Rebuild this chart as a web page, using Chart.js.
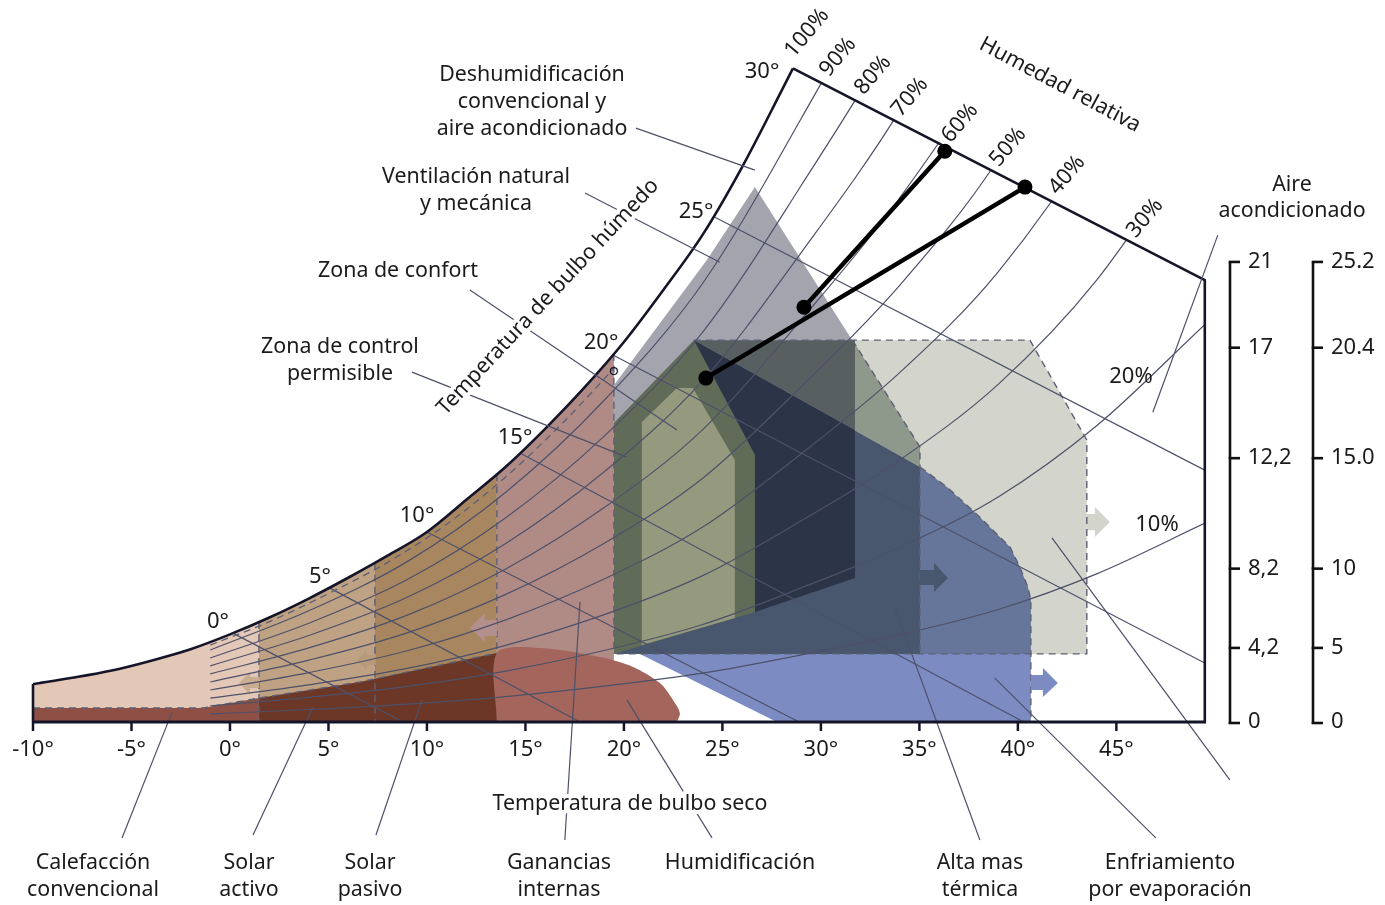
<!DOCTYPE html>
<html>
<head>
<meta charset="utf-8">
<script src="https://cdn.jsdelivr.net/npm/chart.js@4.4.1/dist/chart.umd.min.js"></script>
<style>
  html, body { margin: 0; background: #fff; }
</style>
</head>
<body>
<canvas id="chart" width="1385" height="905"></canvas>
<script>
// Psychrometric chart with bioclimatic zones (dry bulb °C vs humidity ratio g/kg)

// saturation (100%) curve
const satT = [-10, -8, -6, -4, -2, 0, 2, 4, 6, 8, 10, 12, 14, 16, 18, 20, 22, 24, 26, 28, 28.58];
const satW = [1.46, 1.70, 1.98, 2.36, 2.80, 3.37, 4.02, 4.75, 5.55, 6.40, 7.31, 8.55, 9.82, 11.28, 12.87, 14.62, 16.62, 18.75, 21.35, 24.28, 25.15];

// relative humidity curves
const rhT = [-1, 4, 9, 14, 19, 24, 29, 34, 39, 44, 49.5];
const rh90 = [2.77, 4.28, 6.17, 8.84, 12.38, 16.88, 23.22, 30.24, 38.97, 51.1, 68.9];
const rh80 = [2.46, 3.80, 5.48, 7.86, 11.0, 15.0, 20.64, 26.88, 34.64, 45.4, 61.2];
const rh70 = [2.16, 3.33, 4.80, 6.87, 9.63, 13.13, 18.06, 23.52, 30.31, 39.8, 53.6];
const rh60 = [1.85, 2.85, 4.11, 5.89, 8.25, 11.25, 15.48, 20.16, 25.98, 34.1, 45.9];
const rh50 = [1.54, 2.38, 3.43, 4.91, 6.88, 9.38, 12.9, 16.8, 21.65, 28.4, 38.3];
const rh40 = [1.23, 1.90, 2.74, 3.93, 5.5, 7.5, 10.32, 13.44, 17.32, 22.7, 30.6];
const rh30 = [0.92, 1.43, 2.06, 2.95, 4.13, 5.63, 7.74, 10.08, 12.99, 17.0, 23.0];
const rh20 = [0.62, 0.95, 1.37, 1.96, 2.75, 3.75, 5.16, 6.72, 8.66, 11.4, 15.3];
const rh10 = [0.31, 0.48, 0.69, 0.98, 1.38, 1.88, 2.58, 3.36, 4.33, 5.7, 7.65];

// dashed line just under saturation (zone limit)
const limitT = [-1, 2, 5, 8, 11, 14, 17, 19.49];
const limitW = [2.96, 3.86, 4.94, 6.14, 7.61, 9.43, 11.59, 13.6];

// wet bulb lines 0°..25° (start on saturation, end on border)
const wetBulb = [
  [[0.15, 3.42], [8.78, 0]],
  [[5.08, 5.15], [17.77, 0]],
  [[10.0, 7.31], [28.9, 0]],
  [[14.72, 10.35], [40.3, 0]],
  [[19.44, 14.12], [49.49, 2.27]],
  [[24.62, 19.42], [49.49, 9.69]]
];
const topBorder = [[28.58, 25.15], [49.49, 17.0]];   // 30° wet bulb, top edge
const rightBorder = [[49.49, 17.0], [49.49, 0]];
const leftBorder = [[-10, 0], [-10, 1.46]];

// zones
const zoneCalefaccion = [[-10, 0], [-10, 1.46], [-8, 1.70], [-6, 1.98], [-4, 2.36], [-2, 2.80], [0, 3.37], [1.47, 3.85], [1.47, 0]];
const zoneSolarActivo = [[1.47, 0], [1.47, 3.85], [2, 4.02], [4, 4.75], [6, 5.55], [7.36, 6.13], [7.36, 0]];
const zoneSolarPasivo = [[7.36, 0], [7.36, 6.13], [8, 6.40], [10, 7.31], [12, 8.55], [13.55, 9.53], [13.55, 0]];
const zoneGanancias = [[13.55, 0], [13.55, 9.53], [14, 9.82], [16, 11.28], [18, 12.87], [19.49, 14.17], [19.49, 0]];
const bandLeft = [[-10, 0], [-10, 0.54], [-1.37, 0.54], [1.47, 0.92], [1.47, 0]];
const bandMid = [[1.47, 0], [1.47, 0.92], [6.6, 1.54], [13.55, 2.65], [13.55, 0]];
const zoneHumid = [[13.55, 0], [13.55, 2.65], [15.74, 2.85], [18.79, 2.5], [20.46, 2.12], [21.83, 1.5], [22.49, 0.85], [22.84, 0.35], [22.69, 0]];
const zoneEvap = [[23.55, 14.69], [40.61, 14.69], [43.5, 10.85], [43.5, 2.62], [23.55, 2.62]];
const arrowEvap = [[43.5, 8.0], [43.91, 8.0], [43.91, 8.27], [44.67, 7.69], [43.91, 7.12], [43.91, 7.38], [43.5, 7.38]];
const zoneVent = [[26.65, 20.58], [35.03, 10.58], [35.03, 2.62], [19.49, 2.62], [19.49, 12.96], [24.21, 17.77]];
const zoneMasaBase = [[20.81, 2.62], [40.66, 2.62], [40.66, 0], [27.77, 0]];
const zoneMasaVent = [[23.55, 14.69], [35.03, 9.81], [35.03, 2.62], [19.49, 2.62]];
const zoneMasaEvap = [[35.03, 9.81], [36.4, 9.04], [38.07, 7.88], [39.6, 6.73], [40.1, 5.96], [40.51, 5.19], [40.66, 4.69], [40.66, 2.62], [35.03, 2.62]];
const zoneVentEvap = [[31.6, 14.69], [35.03, 10.58], [35.03, 9.81], [31.73, 11.23], [31.73, 14.69]];
const zoneMasaTop = [[23.55, 14.69], [31.73, 14.69], [31.73, 11.23]];
const zoneMasaDark = [[23.55, 14.69], [31.73, 11.23], [31.73, 5.54], [26.65, 4.23], [26.65, 10.27]];
const zoneControl = [[23.55, 14.69], [26.65, 10.27], [26.65, 4.23], [19.49, 2.62], [19.49, 11.5]];
const zoneConfort = [[20.91, 11.54], [22.69, 12.85], [23.5, 12.85], [25.63, 10.08], [25.63, 4.0], [20.91, 2.96]];

const arrowSolarA = [[1.47, 1.73], [1.02, 1.73], [1.02, 1.92], [0.46, 1.5], [1.02, 1.04], [1.02, 1.31], [1.47, 1.31]];
const arrowSolarP = [[7.41, 2.58], [6.95, 2.58], [6.95, 2.77], [6.45, 2.38], [6.95, 2.0], [6.95, 2.19], [7.41, 2.19]];
const arrowGanancias = [[13.55, 3.92], [12.94, 3.92], [12.94, 4.19], [12.18, 3.62], [12.94, 3.08], [12.94, 3.31], [13.55, 3.31]];
const arrowMasa = [[35.03, 5.85], [35.74, 5.85], [35.74, 6.12], [36.45, 5.54], [35.74, 5.0], [35.74, 5.27], [35.03, 5.27]];
const arrowMasaBase = [[40.66, 1.81], [41.27, 1.81], [41.27, 2.08], [42.03, 1.5], [41.27, 0.96], [41.27, 1.23], [40.66, 1.23]];

// dashed zone outlines
const dashEvap = [[23.55, 14.69], [40.61, 14.69], [43.5, 10.85], [43.5, 2.62], [19.49, 2.62]];
const dashVent = [[31.6, 14.69], [35.03, 10.58], [35.03, 2.62]];
const dashMasa = [[35.03, 9.81], [36.4, 9.04], [38.07, 7.88], [39.6, 6.73], [40.1, 5.96], [40.51, 5.19], [40.66, 4.69], [40.66, 0]];
const dashVerticals = [
  [[19.49, 14.17], [19.49, 2.62]],
  [[13.55, 9.53], [13.55, 2.65]],
  [[7.36, 6.13], [7.36, 0]],
  [[1.47, 3.85], [1.47, 0]]
];
const dashBand = [[-10, 0.54], [-1.37, 0.54], [1.47, 0.92], [6.6, 1.54], [13.55, 2.65]];

// process lines with end points
const processA = [[36.29, 21.96], [29.14, 15.96]];
const processB = [[40.36, 20.58], [24.16, 13.23]];
const markerPoint = [[19.49, 13.5]];

// leader lines from labels to zones
const leaders = [
  [[20.61, 22.85], [26.65, 21.23]],
  [[18.02, 20.35], [24.87, 17.69]],
  [[12.18, 16.62], [22.69, 11.23]],
  [[9.24, 13.46], [20.15, 10.19]],
  [[50.15, 18.73], [46.85, 11.92]],
  [[-5.48, -4.46], [-2.94, 0.38]],
  [[1.17, -4.35], [4.21, 0.58]],
  [[7.41, -4.35], [9.75, 0.85]],
  [[17.0, -4.54], [17.77, 4.62]],
  [[24.47, -4.46], [20.15, 0.85]],
  [[38.07, -4.54], [33.76, 4.38]],
  [[47.0, -4.46], [38.83, 1.69]],
  [[50.76, -2.23], [41.73, 7.08]]
];

// axis ticks
const xTicks = [-10, -5, 0, 5, 10, 15, 20, 25, 30, 35, 40, 45];
const rightTickW = [17.7, 14.4, 10.15, 5.9, 2.85, 0];
const rightLabelsA = ['21', '17', '12,2', '8,2', '4,2', '0'];
const rightLabelsB = ['25.2', '20.4', '15.0', '10', '5', '0'];
const clipPoly = [[-10, -1], [-10, 26.2], [28.58, 26.2], [28.58, 25.15], [49.49, 17.0], [49.49, -1]];

const GRID = '#4d5169';
const INK = '#15152a';

const pts = a => a.map(p => ({x: p[0], y: p[1]}));
const zip = (xs, ys) => xs.map((x, i) => [x, ys[i]]);

const datasets = [];
function zone(data, color, extra) {
  datasets.push(Object.assign({data: pts(data), backgroundColor: color, borderColor: 'transparent',
    borderWidth: 0, fill: 'shape', pointRadius: 0}, extra || {}));
}
function line(data, color, width, extra) {
  datasets.push(Object.assign({data: pts(data), borderColor: color, borderWidth: width,
    fill: false, pointRadius: 0}, extra || {}));
}

zone(zoneCalefaccion, '#e3c8b8');
zone(zoneSolarActivo, '#bfa283');
zone(zoneSolarPasivo, '#a8865f');
zone(zoneGanancias, '#b08b86');
zone(bandLeft, '#8e5045');
zone(bandMid, '#6c3727');
zone(zoneHumid, '#a4665c', {tension: 0.3});
zone(zoneEvap, '#d3d4cb');
zone(arrowEvap, '#d3d4cb', {clip: false});
zone(zoneVent, '#a4a4ae');
zone(zoneMasaBase, '#7c8cc2');
zone(zoneMasaVent, '#48566e');
zone(zoneMasaEvap, '#66769a');
zone(zoneVentEvap, '#8e998c');
zone(zoneMasaTop, '#585f60');
zone(zoneMasaDark, '#2c3447');
zone(zoneControl, '#606c58');
zone(zoneConfort, '#959a7f');

const dash = {borderDash: [7, 5]};
line(dashEvap, '#5d6074', 1.4, dash);
line(dashVent, '#5d6074', 1.4, dash);
line(dashMasa, '#5d6074', 1.4, dash);
dashVerticals.forEach(d => line(d, '#5d6074', 1.4, dash));
line(dashBand, '#5d6074', 1.4, dash);

zone(arrowSolarA, '#c9ad90');
zone(arrowSolarP, '#b79a7a');
zone(arrowGanancias, '#b38f8b');
zone(arrowMasa, '#48566e');
zone(arrowMasaBase, '#7c8cc2', {clip: false});

[rh90, rh80, rh70, rh60, rh50, rh40, rh30, rh20, rh10].forEach(w =>
  line(zip(rhT, w), GRID, 1.2, {cubicInterpolationMode: 'monotone', psyClip: true}));
wetBulb.forEach(d => line(d, GRID, 1.2));
line(zip(limitT, limitW), '#5d6074', 1.3, {borderDash: [7, 5], cubicInterpolationMode: 'monotone'});

line(zip(satT, satW), INK, 2.6, {cubicInterpolationMode: 'monotone'});
line(topBorder, INK, 2.6, {clip: false});
line(rightBorder, INK, 2.6, {clip: false});
line(leftBorder, INK, 2.6, {clip: false});

leaders.forEach(d => line(d, GRID, 1.2, {clip: false}));

const dot = {pointRadius: 7.5, pointBackgroundColor: '#000', pointBorderWidth: 0, borderCapStyle: 'round', clip: false};
line(processA, '#000', 4.5, dot);
line(processB, '#000', 4.5, dot);
line(markerPoint, INK, 0, {pointRadius: 3.5, pointBorderColor: INK, pointBorderWidth: 1.2,
  pointBackgroundColor: 'transparent', showLine: false});

datasets.forEach((d, i) => { d.order = -i; });

const psyClip = {
  id: 'psyClip',
  beforeDatasetDraw(chart, args) {
    const ds = chart.data.datasets[args.index];
    if (!ds.psyClip) return;
    const {x, y} = chart.scales;
    const ctx = chart.ctx;
    ctx.save();
    ctx.beginPath();
    clipPoly.forEach((p, i) => {
      const px = x.getPixelForValue(p[0]), py = y.getPixelForValue(p[1]);
      if (i) ctx.lineTo(px, py); else ctx.moveTo(px, py);
    });
    ctx.closePath();
    ctx.clip();
  },
  afterDatasetDraw(chart, args) {
    if (chart.data.datasets[args.index].psyClip) chart.ctx.restore();
  }
};

function label(ctx, s, x, y, o) {
  o = o || {};
  ctx.save();
  ctx.translate(x, y);
  if (o.rot) ctx.rotate(o.rot * Math.PI / 180);
  ctx.font = (o.size || 21.4) + 'px "Noto Sans", sans-serif';
  ctx.textAlign = o.align || 'center';
  ctx.textBaseline = 'middle';
  if (o.halo) {
    ctx.strokeStyle = '#fff';
    ctx.lineWidth = 8;
    ctx.lineJoin = 'round';
    ctx.strokeText(s, 0, 0);
  }
  ctx.fillStyle = '#1b1b1d';
  ctx.fillText(s, 0, 0);
  ctx.restore();
}

const annotations = {
  id: 'annotations',
  afterDraw(chart) {
    const ctx = chart.ctx;
    const {x, y} = chart.scales;
    const y0 = y.getPixelForValue(0);

    // bottom axis
    ctx.save();
    ctx.strokeStyle = INK;
    ctx.lineWidth = 3;
    ctx.beginPath();
    ctx.moveTo(x.getPixelForValue(-10) - 1, y0);
    ctx.lineTo(x.getPixelForValue(49.49) + 1, y0);
    ctx.stroke();
    ctx.lineWidth = 2.5;
    xTicks.forEach(t => {
      const px = x.getPixelForValue(t);
      ctx.beginPath();
      ctx.moveTo(px, y0);
      ctx.lineTo(px, y0 + 9);
      ctx.stroke();
    });
    ctx.restore();
    xTicks.forEach(t => label(ctx, t + '°', x.getPixelForValue(t), y0 + 28, {size: 22}));

    // right hand scales
    [[1230, rightLabelsA], [1313, rightLabelsB]].forEach(([ax, labels]) => {
      const top = y.getPixelForValue(rightTickW[0]);
      ctx.save();
      ctx.strokeStyle = '#111';
      ctx.lineWidth = 2.6;
      ctx.beginPath();
      ctx.moveTo(ax, top);
      ctx.lineTo(ax, y0 + 2);
      ctx.stroke();
      rightTickW.forEach(w => {
        const py = w === 0 ? y0 + 1 : y.getPixelForValue(w);
        ctx.beginPath();
        ctx.moveTo(ax - 1.3, py);
        ctx.lineTo(ax + 10, py);
        ctx.stroke();
      });
      ctx.restore();
      rightTickW.forEach((w, i) =>
        label(ctx, labels[i], ax + 18, y.getPixelForValue(w), {align: 'left', size: 22}));
    });

    // wet bulb temperatures
    [['30°', 762, 72], ['25°', 696, 212], ['20°', 601, 343], ['15°', 515, 438],
     ['10°', 417, 516], ['5°', 320, 577], ['0°', 218, 622]].forEach(l => label(ctx, l[0], l[1], l[2], {size: 22}));
    label(ctx, 'Temperatura de bulbo húmedo', 548, 297, {rot: -47, halo: true});

    // relative humidity
    [['100%', 807, 33], ['90%', 838, 57], ['80%', 873, 75], ['70%', 910, 97], ['60%', 960, 123],
     ['50%', 1008, 147], ['40%', 1067, 175], ['30%', 1145, 218]].forEach(l =>
      label(ctx, l[0], l[1], l[2], {rot: -50, size: 22}));
    label(ctx, 'Humedad relativa', 1060, 85, {rot: 28});
    label(ctx, '20%', 1131, 377, {size: 22});
    label(ctx, '10%', 1157, 525, {size: 22});

    // zone names
    label(ctx, 'Deshumidificación', 532, 75);
    label(ctx, 'convencional y', 532, 102);
    label(ctx, 'aire acondicionado', 532, 129);
    label(ctx, 'Ventilación natural', 476, 177);
    label(ctx, 'y mecánica', 476, 204);
    label(ctx, 'Zona de confort', 398, 271);
    label(ctx, 'Zona de control', 340, 347);
    label(ctx, 'permisible', 340, 374);
    label(ctx, 'Aire', 1292, 185);
    label(ctx, 'acondicionado', 1292, 211);

    label(ctx, 'Temperatura de bulbo seco', 630, 804, {halo: true});
    [['Calefacción', 'convencional', 93], ['Solar', 'activo', 249], ['Solar', 'pasivo', 370],
     ['Ganancias', 'internas', 559], ['Humidificación', '', 740], ['Alta mas', 'térmica', 980],
     ['Enfriamiento', 'por evaporación', 1170]].forEach(l => {
      label(ctx, l[0], l[2], 863, {halo: true});
      if (l[1]) label(ctx, l[1], l[2], 890, {halo: true});
    });
  }
};

new Chart(document.getElementById('chart'), {
  type: 'line',
  data: {datasets: datasets},
  options: {
    responsive: false,
    animation: false,
    events: [],
    layout: {padding: {left: 33, right: 180, top: 41, bottom: 183}},
    scales: {
      x: {type: 'linear', min: -10, max: 49.5, display: false},
      y: {type: 'linear', min: 0, max: 26.2, display: false}
    },
    plugins: {legend: {display: false}, tooltip: {enabled: false}},
    elements: {line: {borderJoinStyle: 'round'}}
  },
  plugins: [psyClip, annotations]
});
</script>
</body>
</html>
